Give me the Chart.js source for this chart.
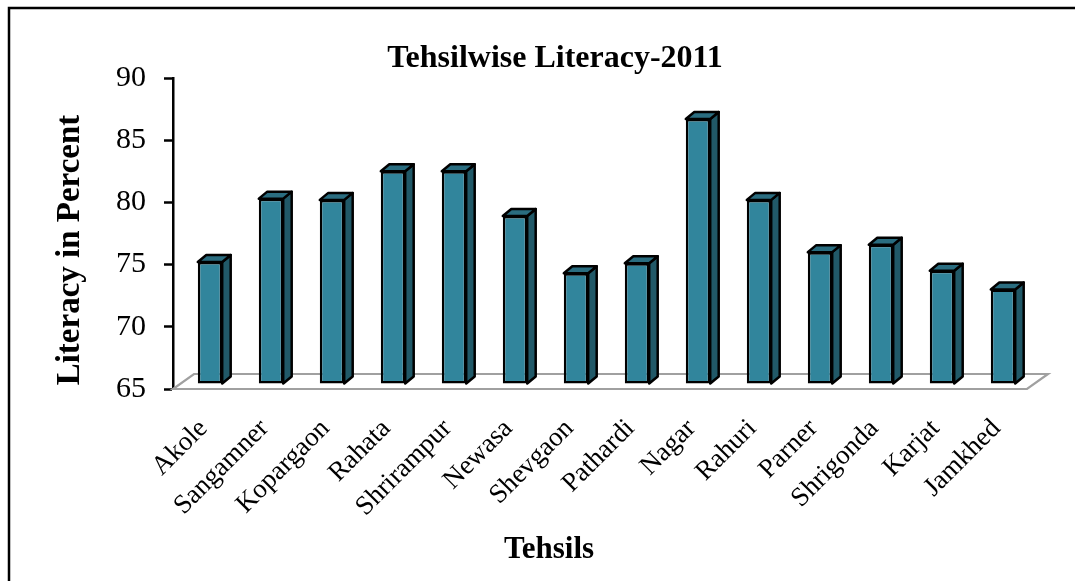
<!DOCTYPE html>
<html>
<head>
<meta charset="utf-8">
<title>Tehsilwise Literacy-2011</title>
<script src="https://cdn.jsdelivr.net/npm/chart.js@4.4.1/dist/chart.umd.min.js"></script>
<style>
  html, body { margin: 0; padding: 0; background: #fff; }
  canvas { display: block; }
</style>
</head>
<body>
<canvas id="myChart" width="1075" height="581"></canvas>
<script>
// tehsils of the district and their literacy rate (%) in 2011
var tehsils = ['Akole', 'Sangamner', 'Kopargaon', 'Rahata', 'Shrirampur', 'Newasa', 'Shevgaon',
               'Pathardi', 'Nagar', 'Rahuri', 'Parner', 'Shrigonda', 'Karjat', 'Jamkhed'];
var literacy = [74.8, 79.9, 79.8, 82.1, 82.1, 78.5, 73.9, 74.7, 86.3, 79.8, 75.6, 76.2, 74.1, 72.6];
var yMin = 65;
var yMax = 90;
var yStep = 5;

var chartTitle = 'Tehsilwise Literacy-2011';
var xTitle = 'Tehsils';
var yTitle = 'Literacy in Percent';

var serif = "'Liberation Serif', 'Times New Roman', serif";

// offsets used for the fake 3d look
var floorDepth = { x: 21, y: -15 };   // back edge of the floor
var barShift = { x: 6.5, y: -5 };     // bars stand a bit behind the front edge
var barDepth = { x: 8.5, y: -7 };     // side / top face of every bar

var frontColor = '#31859c';
var topColor = '#2a6d80';
var sideColor = '#215968';

// outer frame + the three titles (placed like the excel original, not centred on the axes)
var framePlugin = {
    id: 'frame',
    beforeDraw: function(chart) {
        var ctx = chart.ctx;
        ctx.save();
        ctx.strokeStyle = '#000';
        ctx.lineWidth = 2.5;
        ctx.strokeRect(9, 8, chart.width + 20, chart.height + 20);
        ctx.restore();
    },
    afterDraw: function(chart) {
        var ctx = chart.ctx;
        ctx.save();
        ctx.fillStyle = '#000';
        ctx.textAlign = 'center';
        ctx.textBaseline = 'alphabetic';

        ctx.font = 'bold 32px ' + serif;
        ctx.fillText(chartTitle, 555, 67);

        ctx.font = 'bold 31px ' + serif;
        ctx.fillText(xTitle, 549, 558);

        ctx.font = 'bold 33px ' + serif;
        ctx.translate(79, 250);
        ctx.rotate(-Math.PI / 2);
        ctx.fillText(yTitle, 0, 0);
        ctx.restore();
    }
};

function poly(ctx, pts, fill) {
    ctx.beginPath();
    ctx.moveTo(pts[0][0], pts[0][1]);
    for (var i = 1; i < pts.length; i++) ctx.lineTo(pts[i][0], pts[i][1]);
    ctx.closePath();
    if (fill) {
        ctx.fillStyle = fill;
        ctx.fill();
    }
    ctx.stroke();
}

var bars3d = {
    id: 'bars3d',
    beforeDatasetsDraw: function(chart) {
        var ctx = chart.ctx;
        var a = chart.chartArea;

        // floor
        ctx.save();
        ctx.strokeStyle = '#a0a0a0';
        ctx.lineWidth = 2.2;
        poly(ctx, [
            [a.left, a.bottom],
            [a.right, a.bottom],
            [a.right + floorDepth.x, a.bottom + floorDepth.y],
            [a.left + floorDepth.x, a.bottom + floorDepth.y]
        ], null);
        ctx.restore();

        // everything in the dataset layer is pushed back a little
        ctx.save();
        ctx.translate(barShift.x, barShift.y);

        ctx.save();
        ctx.strokeStyle = '#000';
        ctx.lineWidth = 2.5;
        ctx.lineJoin = 'round';
        chart.getDatasetMeta(0).data.forEach(function(bar) {
            var x0 = bar.x - bar.width / 2;
            var x1 = bar.x + bar.width / 2;
            var top = bar.y;
            var bottom = bar.base;
            poly(ctx, [
                [x1, bottom],
                [x1 + barDepth.x, bottom + barDepth.y],
                [x1 + barDepth.x, top + barDepth.y],
                [x1, top]
            ], sideColor);
            poly(ctx, [
                [x0, top],
                [x0 + barDepth.x, top + barDepth.y],
                [x1 + barDepth.x, top + barDepth.y],
                [x1, top]
            ], topColor);
        });
        ctx.restore();
    },
    afterDatasetsDraw: function(chart) {
        chart.ctx.restore();
    }
};

var ctx = document.getElementById('myChart').getContext('2d');
var chart = new Chart(ctx, {
    type: 'bar',
    data: {
        labels: tehsils,
        datasets: [{
            label: yTitle,
            data: literacy,
            base: yMin,
            backgroundColor: frontColor,
            borderColor: '#000',
            borderWidth: 2.5,
            borderSkipped: false,
            categoryPercentage: 1,
            barPercentage: 0.4,
            clip: false
        }]
    },
    options: {
        responsive: false,
        animation: false,
        devicePixelRatio: 1,
        layout: {
            padding: { top: 78, left: 10, right: 48, bottom: 0 }
        },
        plugins: {
            legend: { display: false },
            tooltip: { enabled: false },
            title: { display: false }
        },
        scales: {
            x: {
                grid: { display: false },
                border: { display: false },
                ticks: {
                    color: '#000',
                    font: { family: serif, size: 27 },
                    autoSkip: false,
                    maxRotation: 45,
                    minRotation: 45,
                    padding: 16
                },
                afterFit: function(scale) { scale.height = 192; }
            },
            y: {
                min: yMin,
                max: yMax,
                grid: {
                    drawOnChartArea: false,
                    drawTicks: true,
                    tickLength: 9,
                    tickColor: '#000',
                    tickWidth: 2.5
                },
                border: { display: true, color: '#000', width: 2.5 },
                ticks: {
                    stepSize: yStep,
                    color: '#000',
                    font: { family: serif, size: 30 },
                    padding: 18
                },
                afterFit: function(scale) { scale.width = 163; }
            }
        }
    },
    plugins: [framePlugin, bars3d]
});
</script>
</body>
</html>
